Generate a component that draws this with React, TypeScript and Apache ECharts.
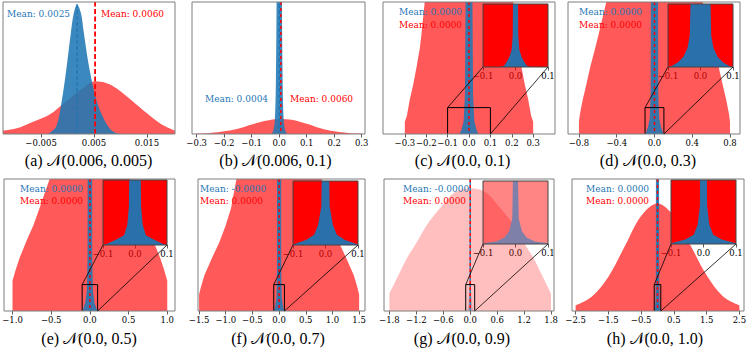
import React, { useEffect, useRef } from 'react';
import * as echarts from 'echarts';

// ---------- data (x value, height as fraction of the frame) ----------
const redA = [[-0.0122, 0.025], [-0.0096, 0.043], [-0.0065, 0.093], [-0.0033, 0.15], [-0.0002, 0.25], [0.003, 0.35], [0.0052, 0.40], [0.0074, 0.385], [0.0093, 0.345], [0.0124, 0.245], [0.015, 0.157], [0.0175, 0.08], [0.0203, 0.025]];
const blueA = [[-0.004, 0], [-0.0033, 0.01], [-0.0021, 0.06], [-0.0011, 0.25], [-0.0002, 0.5], [0.0006, 0.76], [0.0012, 0.92], [0.0018, 0.98], [0.0025, 0.92], [0.0031, 0.76], [0.0041, 0.5], [0.0055, 0.25], [0.0068, 0.12], [0.008, 0.04], [0.0093, 0.005], [0.01, 0]];
const redB = [[-0.3, 0.003], [-0.25, 0.008], [-0.2, 0.02], [-0.15, 0.04], [-0.1, 0.072], [-0.05, 0.1], [0.0, 0.114], [0.05, 0.106], [0.1, 0.078], [0.15, 0.044], [0.2, 0.02], [0.25, 0.008], [0.3, 0.003]];
const blueB = [[-0.03, 0], [-0.022, 0.02], [-0.016, 0.1], [-0.012, 0.4], [-0.009, 1.2], [0.0004, 6], [0.0095, 1.2], [0.0125, 0.4], [0.0165, 0.1], [0.023, 0.02], [0.03, 0]];
const redC = [[-0.3, 0.093], [-0.29, 0.14], [-0.277, 0.26], [-0.26, 0.38], [-0.245, 0.51], [-0.23, 0.65], [-0.222, 0.76], [-0.207, 1.0], [-0.19, 1.4], [-0.15, 3], [0, 8], [0.15, 3], [0.19, 1.4], [0.207, 1.0], [0.222, 0.76], [0.23, 0.65], [0.245, 0.51], [0.26, 0.38], [0.277, 0.26], [0.29, 0.14], [0.3, 0.093]];
const blueC = [[-0.045, 0], [-0.035, 0.03], [-0.025, 0.1], [-0.019, 0.3], [-0.016, 1.0], [-0.013, 3], [0, 10], [0.013, 3], [0.016, 1.0], [0.019, 0.3], [0.025, 0.1], [0.035, 0.03], [0.045, 0]];
const insetBlueC = [[-0.045, 0], [-0.035, 0.02], [-0.027, 0.08], [-0.019, 0.16], [-0.012, 0.27], [-0.0085, 0.5], [-0.007, 1.5], [0, 5], [0.007, 1.5], [0.0085, 0.5], [0.012, 0.27], [0.019, 0.16], [0.027, 0.08], [0.035, 0.02], [0.045, 0]];
const redD = [[-0.8, 0.093], [-0.79, 0.15], [-0.76, 0.26], [-0.72, 0.38], [-0.68, 0.51], [-0.635, 0.63], [-0.59, 0.76], [-0.55, 0.88], [-0.51, 1.0], [-0.45, 1.4], [0, 6], [0.45, 1.4], [0.51, 1.0], [0.55, 0.88], [0.59, 0.76], [0.635, 0.63], [0.68, 0.51], [0.72, 0.38], [0.76, 0.26], [0.79, 0.15], [0.8, 0.093]];
const blueD = [[-0.11, 0], [-0.09, 0.01], [-0.07, 0.05], [-0.05, 0.12], [-0.04, 0.3], [-0.038, 1], [-0.036, 5], [0, 10], [0.036, 5], [0.038, 1], [0.04, 0.3], [0.05, 0.12], [0.07, 0.05], [0.09, 0.01], [0.11, 0]];
const insetBlueD = [[-0.1, 0], [-0.09, 0.01], [-0.07, 0.07], [-0.053, 0.16], [-0.04, 0.3], [-0.033, 0.5], [-0.03, 1.2], [0, 3], [0.03, 1.2], [0.033, 0.5], [0.04, 0.3], [0.053, 0.16], [0.07, 0.07], [0.09, 0.01], [0.1, 0]];
const redE = [[-1.0, 0.23], [-0.96, 0.31], [-0.91, 0.4], [-0.82, 0.53], [-0.73, 0.65], [-0.65, 0.78], [-0.58, 0.9], [-0.52, 1.0], [-0.45, 1.2], [0, 3], [0.45, 1.2], [0.52, 1.0], [0.58, 0.9], [0.65, 0.78], [0.73, 0.65], [0.82, 0.53], [0.91, 0.4], [0.96, 0.31], [1.0, 0.23]];
const blueE = [[-0.11, 0], [-0.09, 0.01], [-0.06, 0.06], [-0.04, 0.15], [-0.03, 0.4], [-0.028, 1.5], [0, 5], [0.028, 1.5], [0.03, 0.4], [0.04, 0.15], [0.06, 0.06], [0.09, 0.01], [0.11, 0]];
const insetBlueE = [[-0.1, 0.005], [-0.09, 0.01], [-0.06, 0.08], [-0.034, 0.15], [-0.024, 0.31], [-0.019, 0.6], [-0.017, 1.5], [0, 4], [0.017, 1.5], [0.019, 0.6], [0.024, 0.31], [0.034, 0.15], [0.06, 0.08], [0.09, 0.01], [0.1, 0.005]];
const redF = [[-1.5, 0.125], [-1.46, 0.19], [-1.4, 0.27], [-1.26, 0.4], [-1.12, 0.52], [-1.0, 0.65], [-0.9, 0.78], [-0.85, 0.89], [-0.8, 1.0], [-0.7, 1.3], [0, 3], [0.7, 1.3], [0.8, 1.0], [0.85, 0.89], [0.9, 0.78], [1.0, 0.65], [1.12, 0.52], [1.26, 0.4], [1.4, 0.27], [1.46, 0.19], [1.5, 0.125]];
const blueF = [[-0.11, 0], [-0.08, 0.02], [-0.05, 0.1], [-0.04, 0.3], [-0.038, 1.5], [0, 5], [0.038, 1.5], [0.04, 0.3], [0.05, 0.1], [0.08, 0.02], [0.11, 0]];
const insetBlueF = [[-0.1, 0.008], [-0.06, 0.08], [-0.035, 0.16], [-0.023, 0.31], [-0.013, 0.6], [-0.01, 1.5], [0, 4], [0.01, 1.5], [0.013, 0.6], [0.023, 0.31], [0.035, 0.16], [0.06, 0.08], [0.1, 0.008]];
const redG = [[-1.8, 0.13], [-1.6, 0.27], [-1.41, 0.4], [-1.19, 0.52], [-0.97, 0.65], [-0.67, 0.78], [-0.34, 0.9], [0, 0.93], [0.34, 0.9], [0.67, 0.78], [0.97, 0.65], [1.19, 0.52], [1.41, 0.4], [1.6, 0.27], [1.8, 0.13]];
const blueG = [[-0.06, 0], [-0.04, 0.05], [-0.02, 0.15], [-0.012, 0.4], [-0.01, 1.5], [0, 5], [0.01, 1.5], [0.012, 0.4], [0.02, 0.15], [0.04, 0.05], [0.06, 0]];
const insetBlueG = [[-0.1, 0.01], [-0.06, 0.04], [-0.035, 0.1], [-0.02, 0.2], [-0.01, 0.4], [-0.006, 1.5], [0, 4], [0.006, 1.5], [0.01, 0.4], [0.02, 0.2], [0.035, 0.1], [0.06, 0.04], [0.1, 0.01]];
const redH = [[-2.5, 0.043], [-2.0, 0.11], [-1.5, 0.26], [-1.0, 0.49], [-0.5, 0.72], [0, 0.815], [0.5, 0.72], [1.0, 0.5], [1.5, 0.27], [2.0, 0.11], [2.5, 0.043]];
const blueH = [[-0.11, 0], [-0.08, 0.02], [-0.06, 0.08], [-0.05, 0.3], [-0.048, 1.5], [0, 5], [0.048, 1.5], [0.05, 0.3], [0.06, 0.08], [0.08, 0.02], [0.11, 0]];
const insetBlueH = [[-0.1, 0.01], [-0.056, 0.07], [-0.03, 0.145], [-0.018, 0.3], [-0.011, 0.6], [-0.01, 1.5], [0, 4], [0.01, 1.5], [0.011, 0.6], [0.018, 0.3], [0.03, 0.145], [0.056, 0.07], [0.1, 0.01]];
const insetRed = [[-0.1, 2], [0.1, 2]];

// tick values
const ticksA = [-0.005, 0.005, 0.015];
const ticksB = [-0.3, -0.2, -0.1, 0, 0.1, 0.2, 0.3];
const ticksC = [-0.3, -0.2, -0.1, 0, 0.1, 0.2, 0.3];
const ticksD = [-0.8, -0.4, 0, 0.4, 0.8];
const ticksE = [-1.0, -0.5, 0, 0.5, 1.0];
const ticksF = [-1.5, -1.0, -0.5, 0, 0.5, 1.0, 1.5];
const ticksG = [-1.8, -1.2, -0.6, 0, 0.6, 1.2, 1.8];
const ticksH = [-2.5, -1.5, -0.5, 0.5, 1.5, 2.5];
const insetTicks = [-0.1, 0, 0.1];

// axis ranges
const rangeA = [-0.0122, 0.0203];
const rangeB = [-0.317, 0.312];
const rangeC = [-0.402, 0.402];
const rangeD = [-0.916, 0.906];
const rangeE = [-1.11, 1.10];
const rangeF = [-1.52, 1.61];
const rangeG = [-1.92, 1.866];
const rangeH = [-2.61, 2.64];

// means (line positions) and labels
const redMeans = [0.0052, 0.006, 0, 0, 0, 0, 0, 0];
const blueMeans = [0.0018, 0.0004, 0, 0, 0, 0, 0, 0];
const blueMeanLabels = ['Mean: 0.0025', 'Mean: 0.0004', 'Mean: 0.0000', 'Mean: 0.0000', 'Mean: 0.0000', 'Mean: -0.0000', 'Mean: -0.0000', 'Mean: 0.0000'];
const redMeanLabels = ['Mean: 0.0060', 'Mean: 0.0060', 'Mean: 0.0000', 'Mean: 0.0000', 'Mean: 0.0000', 'Mean: 0.0000', 'Mean: 0.0000', 'Mean: 0.0000'];
const captions = ['(a) \u{1D4A9}(0.006, 0.005)', '(b) \u{1D4A9}(0.006, 0.1)', '(c) \u{1D4A9}(0.0, 0.1)', '(d) \u{1D4A9}(0.0, 0.3)', '(e) \u{1D4A9}(0.0, 0.5)', '(f) \u{1D4A9}(0.0, 0.7)', '(g) \u{1D4A9}(0.0, 0.9)', '(h) \u{1D4A9}(0.0, 1.0)'];
const rectTop = 0.2;

// ---------- layout ----------
const boxes = [
  [3, 2, 172, 132], [192, 2, 173, 132], [383, 2, 172, 132], [568, 2, 172, 132],
  [4, 179, 171, 132], [198, 179, 167, 132], [384, 179, 170, 132], [572, 179, 172, 132],
];
const insetBoxes = [
  [483, 4, 65, 63], [668, 4, 65, 63], [103, 180, 64, 65], [293, 181, 65, 64], [483, 181, 65, 63], [671, 180, 65, 64],
];
const blueTextPos = [[7, 14], [205, 99], [399, 12], [579, 12], [20, 188.5], [200, 188.5], [403, 188.5], [586, 188.5]];
const redTextPos = [[101, 14], [290, 99], [399, 24.5], [579, 24.5], [20, 200.5], [200, 200.5], [403, 201], [586, 201]];
const captionPos = [[88.5, 160.5], [275.5, 160.5], [462.5, 160.5], [648, 160.5], [89, 338], [278, 338], [462, 338], [655, 338]];

const RED = '#ff0000';
const BLUE = '#1f77b4';

const fmt = (dec: number) => (v: number) => (v < -1e-12 ? '\u2212' : '') + Math.abs(v).toFixed(dec);

export default function App() {
  const ref = useRef<HTMLDivElement>(null);
  useEffect(() => {
    document.body.style.margin = '0';
    const chart = echarts.init(ref.current!, null, { renderer: 'svg' });
    const reds = [redA, redB, redC, redD, redE, redF, redG, redH];
    const blues = [blueA, blueB, blueC, blueD, blueE, blueF, blueG, blueH];
    const insetBlues = [insetBlueC, insetBlueD, insetBlueE, insetBlueF, insetBlueG, insetBlueH];
    const ticks = [ticksA, ticksB, ticksC, ticksD, ticksE, ticksF, ticksG, ticksH];
    const ranges = [rangeA, rangeB, rangeC, rangeD, rangeE, rangeF, rangeG, rangeH];
    const smooths = [0.35, 0.35, false, false, false, false, 0.35, 0.35];

    const grids: any[] = [];
    const xAxes: any[] = [];
    const yAxes: any[] = [];
    const series: any[] = [];
    const labelFont = { fontSize: 8.5, fontFamily: 'DejaVu Serif', color: '#000' };

    const addGrid = (box: number[], range: number[], tk: number[], dec: number) => {
      const i = grids.length;
      grids.push({ left: box[0], top: box[1], width: box[2], height: box[3], outerBoundsMode: 'none', containLabel: false });
      xAxes.push({
        gridIndex: i, type: 'value', min: range[0], max: range[1],
        axisLine: { show: false }, splitLine: { show: false },
        axisTick: { show: true, customValues: tk, length: 3.5, lineStyle: { color: '#333', width: 0.8 } },
        axisLabel: { show: true, customValues: tk, formatter: fmt(dec), margin: 4, ...labelFont },
      });
      yAxes.push({ gridIndex: i, type: 'value', min: 0, max: 1, show: false });
      return i;
    };
    const area = (i: number, data: number[][], color: string, opacity: number, z: number, smooth: any) => ({
      type: 'line', xAxisIndex: i, yAxisIndex: i, data, symbol: 'none', showSymbol: false, smooth,
      lineStyle: { width: 0 }, areaStyle: { color, opacity }, z, clip: true, silent: true, animation: false,
    });
    const vline = (i: number, x: number, color: string, width: number, z: number, dash: number[], offset: number) => ({
      type: 'line', xAxisIndex: i, yAxisIndex: i, data: [[x, 0], [x, 1]], symbol: 'none', showSymbol: false,
      lineStyle: { color, width, type: dash, dashOffset: offset }, z, clip: true, silent: true,
    });

    for (let p = 0; p < 8; p++) {
      const i = addGrid(boxes[p], ranges[p], ticks[p], p === 0 ? 3 : 1);
      const g = p === 6;
      series.push(area(i, reds[p], RED, g ? 0.25 : 0.65, g ? 3 : 2, smooths[p]));
      series.push(area(i, blues[p], BLUE, g ? 0.3 : 0.88, g ? 2 : 3, p < 2 ? smooths[p] : false));
      series.push(vline(i, blueMeans[p], BLUE, p === 0 ? 1.2 : 1.3, 5, [4, 2], 0));
      series.push(vline(i, redMeans[p], RED, p === 0 ? 1.8 : 1.5, 6, p === 0 ? [5, 2.5] : [3, 3], p === 0 ? 0 : 3));
      if (p >= 2) {
        series.push({
          type: 'line', xAxisIndex: i, yAxisIndex: i,
          data: [[-0.1, 0], [-0.1, rectTop], [0.1, rectTop], [0.1, 0]], symbol: 'none', showSymbol: false,
          lineStyle: { color: '#000', width: 1 }, z: 7, clip: false, silent: true,
        });
      }
    }
    const insetStart = grids.length;
    for (let k = 0; k < 6; k++) {
      const i = addGrid(insetBoxes[k], [-0.1, 0.1], insetTicks, 1);
      const g = k === 4;
      series.push(area(i, insetRed, g ? '#ff8585' : RED, 1, 2, false));
      series.push(area(i, insetBlues[k], g ? '#7f80aa' : BLUE, g ? 1 : 0.95, 3, false));
    }

    chart.setOption({
      animation: false,
      backgroundColor: '#ffffff',
      grid: grids, xAxis: xAxes, yAxis: yAxes, series,
    });

    const graphic: any[] = [];
    boxes.forEach((b) => graphic.push({ type: 'rect', shape: { x: b[0], y: b[1], width: b[2], height: b[3] }, style: { fill: 'none', stroke: '#7f7f7f', lineWidth: 1 }, z: 100, silent: true }));
    insetBoxes.forEach((b) => graphic.push({ type: 'rect', shape: { x: b[0], y: b[1], width: b[2], height: b[3] }, style: { fill: 'none', stroke: '#444', lineWidth: 1 }, z: 100, silent: true }));
    for (let k = 0; k < 6; k++) {
      const main = k + 2;
      const a1 = chart.convertToPixel({ gridIndex: main } as any, [-0.1, rectTop]) as number[];
      const b1 = chart.convertToPixel({ gridIndex: insetStart + k } as any, [-0.1, 0]) as number[];
      const a2 = chart.convertToPixel({ gridIndex: main } as any, [0.1, 0]) as number[];
      const b2 = chart.convertToPixel({ gridIndex: insetStart + k } as any, [0.1, 0]) as number[];
      graphic.push({ type: 'line', shape: { x1: a1[0], y1: a1[1], x2: b1[0], y2: b1[1] }, style: { stroke: '#000', lineWidth: 0.8 }, z: 101, silent: true });
      graphic.push({ type: 'line', shape: { x1: a2[0], y1: a2[1], x2: b2[0], y2: b2[1] }, style: { stroke: '#000', lineWidth: 0.8 }, z: 101, silent: true });
    }
    for (let p = 0; p < 8; p++) {
      graphic.push({ type: 'text', x: blueTextPos[p][0], y: blueTextPos[p][1], style: { text: blueMeanLabels[p], fill: BLUE, font: '9px "DejaVu Serif"', textAlign: 'left', textVerticalAlign: 'middle' }, z: 110, silent: true });
      graphic.push({ type: 'text', x: redTextPos[p][0], y: redTextPos[p][1], style: { text: redMeanLabels[p], fill: RED, font: '9px "DejaVu Serif"', textAlign: 'left', textVerticalAlign: 'middle' }, z: 110, silent: true });
      graphic.push({ type: 'text', x: captionPos[p][0], y: captionPos[p][1], style: { text: captions[p], fill: '#000', font: '16px "Liberation Serif", "DejaVu Serif", "DejaVu Sans"', textAlign: 'center', textVerticalAlign: 'middle' }, z: 110, silent: true });
    }
    chart.setOption({ graphic });

    return () => chart.dispose();
  }, []);
  return <div ref={ref} style={{ width: 747, height: 351 }} />;
}
